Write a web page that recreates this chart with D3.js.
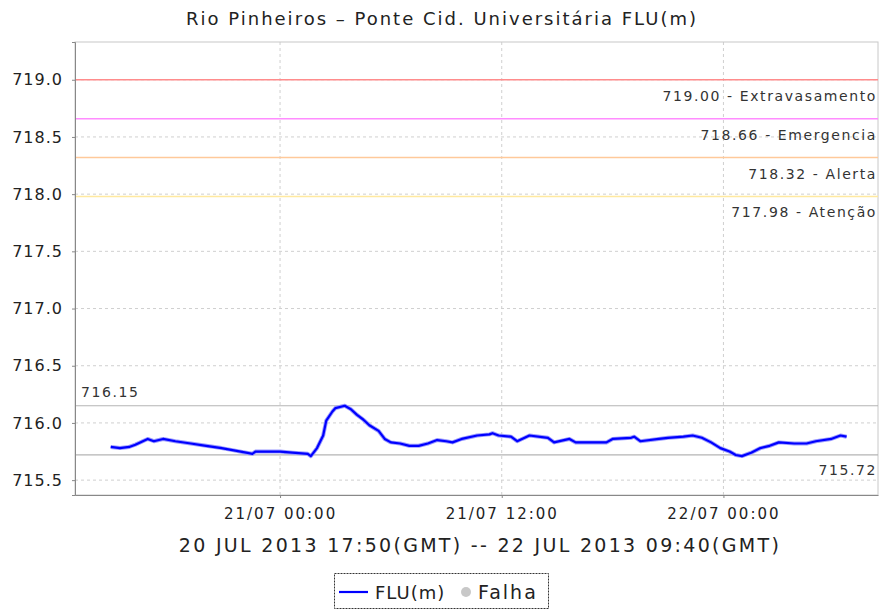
<!DOCTYPE html>
<html>
<head>
<meta charset="utf-8">
<script src="https://cdn.jsdelivr.net/npm/d3@7"></script>
<style>
  body { margin: 0; background: #fff; }
  text { font-family: "DejaVu Sans", sans-serif; fill: #222; }
</style>
</head>
<body>
<div id="vis"></div>
<script>
// readings (local time) and water level FLU(m)
var times = [
  "2013-07-20 14:50", "2013-07-20 15:20", "2013-07-20 15:50", "2013-07-20 16:10",
  "2013-07-20 16:50", "2013-07-20 17:10", "2013-07-20 17:40", "2013-07-20 18:20",
  "2013-07-20 19:10", "2013-07-20 20:00", "2013-07-20 20:50", "2013-07-20 21:30",
  "2013-07-20 22:10", "2013-07-20 22:30", "2013-07-20 22:40", "2013-07-21 00:00",
  "2013-07-21 00:40", "2013-07-21 01:30", "2013-07-21 01:40", "2013-07-21 02:00",
  "2013-07-21 02:20", "2013-07-21 02:30", "2013-07-21 02:50", "2013-07-21 03:00",
  "2013-07-21 03:30", "2013-07-21 03:50", "2013-07-21 04:10", "2013-07-21 04:30",
  "2013-07-21 04:50", "2013-07-21 05:20", "2013-07-21 05:40", "2013-07-21 06:00",
  "2013-07-21 06:30", "2013-07-21 07:00", "2013-07-21 07:30", "2013-07-21 08:00",
  "2013-07-21 08:30", "2013-07-21 09:00", "2013-07-21 09:20", "2013-07-21 09:50",
  "2013-07-21 10:40", "2013-07-21 11:20", "2013-07-21 11:30", "2013-07-21 11:50",
  "2013-07-21 12:30", "2013-07-21 12:50", "2013-07-21 13:30", "2013-07-21 14:30",
  "2013-07-21 14:50", "2013-07-21 15:40", "2013-07-21 16:00", "2013-07-21 17:40",
  "2013-07-21 18:00", "2013-07-21 19:00", "2013-07-21 19:10", "2013-07-21 19:30",
  "2013-07-21 20:30", "2013-07-21 21:00", "2013-07-21 21:50", "2013-07-21 22:20",
  "2013-07-21 22:50", "2013-07-21 23:20", "2013-07-21 23:50", "2013-07-22 00:20",
  "2013-07-22 00:40", "2013-07-22 01:00", "2013-07-22 01:30", "2013-07-22 02:00",
  "2013-07-22 02:30", "2013-07-22 03:00", "2013-07-22 03:50", "2013-07-22 04:30",
  "2013-07-22 05:00", "2013-07-22 05:50", "2013-07-22 06:20", "2013-07-22 06:40"
];
var levels = [
  715.79, 715.78, 715.79, 715.81,
  715.86, 715.84, 715.86, 715.84,
  715.82, 715.80, 715.78, 715.76,
  715.74, 715.73, 715.75, 715.75,
  715.74, 715.73, 715.71, 715.78,
  715.89, 716.02, 716.10, 716.13,
  716.15, 716.12, 716.07, 716.03,
  715.98, 715.93, 715.86, 715.83,
  715.82, 715.80, 715.80, 715.82,
  715.85, 715.84, 715.83, 715.86,
  715.89, 715.90, 715.91, 715.89,
  715.88, 715.84, 715.89, 715.87,
  715.83, 715.86, 715.83, 715.83,
  715.86, 715.87, 715.88, 715.84,
  715.86, 715.87, 715.88, 715.89,
  715.87, 715.83, 715.78, 715.75,
  715.72, 715.71, 715.74, 715.78,
  715.80, 715.83, 715.82, 715.82,
  715.84, 715.86, 715.89, 715.88
];

// alert thresholds
var thresholdValues = [719.00, 718.66, 718.32, 717.98];
var thresholdNames = ["Extravasamento", "Emergencia", "Alerta", "Atenção"];
var thresholdColors = ["#ff8c8c", "#ff8cff", "#ffc99a", "#ffe9a0"];

// max / min markers
var maxLevel = 716.15;
var minLevel = 715.72;

var yTicks = [715.5, 716.0, 716.5, 717.0, 717.5, 718.0, 718.5, 719.0];
var xTickLabels = ["2013-07-21 00:00", "2013-07-21 12:00", "2013-07-22 00:00"];
var xStart = "2013-07-20 12:54";
var xEnd = "2013-07-22 08:22";

var title = "Rio Pinheiros – Ponte Cid. Universitária FLU(m)";
var axisTitle = "20 JUL 2013 17:50(GMT) -- 22 JUL 2013 09:40(GMT)";

var width = 879;
var height = 614;
var margin = { top: 42, left: 75, bottom: 119, right: 1 };
var innerW = width - margin.left - margin.right;
var innerH = height - margin.top - margin.bottom;

var parse = d3.utcParse("%Y-%m-%d %H:%M");
var data = times.map(function (t, i) { return { t: parse(t), v: levels[i] }; });

var svg = d3.select('#vis')
  .append('svg')
  .attr('width', width)
  .attr('height', height);

var x = d3.scaleUtc()
  .domain([parse(xStart), parse(xEnd)])
  .range([margin.left, margin.left + innerW]);

var y = d3.scaleLinear()
  .domain([715.37, 719.33])
  .range([margin.top + innerH, margin.top]);

// title
svg.append('text')
  .attr('x', 442)
  .attr('y', 25)
  .attr('text-anchor', 'middle')
  .attr('font-size', 18)
  .attr('letter-spacing', 2)
  .text(title);

var plot = svg.append('g');

// grid
plot.selectAll('line.hgrid')
  .data(yTicks).enter()
  .append('line')
  .attr('class', 'hgrid')
  .attr('x1', margin.left).attr('x2', margin.left + innerW)
  .attr('y1', d => y(d)).attr('y2', d => y(d))
  .attr('stroke', '#cfcfcf')
  .attr('stroke-dasharray', '3,3');

plot.selectAll('line.vgrid')
  .data(xTickLabels.map(parse)).enter()
  .append('line')
  .attr('class', 'vgrid')
  .attr('x1', d => x(d)).attr('x2', d => x(d))
  .attr('y1', margin.top).attr('y2', margin.top + innerH)
  .attr('stroke', '#cfcfcf')
  .attr('stroke-dasharray', '3,3');

// top / right border
plot.append('rect')
  .attr('x', margin.left).attr('y', margin.top)
  .attr('width', innerW).attr('height', innerH)
  .attr('fill', 'none')
  .attr('stroke', '#c8c8c8');

// threshold lines
plot.selectAll('line.thr')
  .data(thresholdValues).enter()
  .append('line')
  .attr('class', 'thr')
  .attr('x1', margin.left).attr('x2', margin.left + innerW)
  .attr('y1', d => y(d)).attr('y2', d => y(d))
  .attr('stroke', (d, i) => thresholdColors[i])
  .attr('stroke-width', 1.5);

plot.selectAll('text.thr')
  .data(thresholdValues).enter()
  .append('text')
  .attr('class', 'thr')
  .attr('x', 877)
  .attr('y', d => y(d) + 21)
  .attr('text-anchor', 'end')
  .attr('font-size', 14)
  .attr('letter-spacing', 1.6)
  .style('fill', '#333')
  .text((d, i) => d.toFixed(2) + ' - ' + thresholdNames[i]);

// max / min lines
[maxLevel, minLevel].forEach(function (v) {
  plot.append('line')
    .attr('x1', margin.left).attr('x2', margin.left + innerW)
    .attr('y1', y(v)).attr('y2', y(v))
    .attr('stroke', '#b4b4b4')
    .attr('stroke-width', 1.2);
});

plot.append('text')
  .attr('x', 81)
  .attr('y', y(maxLevel) - 9)
  .attr('font-size', 14)
  .attr('letter-spacing', 1.6)
  .style('fill', '#333')
  .text(maxLevel.toFixed(2));

plot.append('text')
  .attr('x', 877)
  .attr('y', y(minLevel) + 20)
  .attr('text-anchor', 'end')
  .attr('font-size', 14)
  .attr('letter-spacing', 1.6)
  .style('fill', '#333')
  .text(minLevel.toFixed(2));

// series
var line = d3.line()
  .x(d => x(d.t))
  .y(d => y(d.v));

plot.append('path')
  .datum(data)
  .attr('d', line)
  .attr('fill', 'none')
  .attr('stroke', '#9a9aff')
  .attr('stroke-width', 4)
  .attr('stroke-linejoin', 'round');

plot.append('path')
  .datum(data)
  .attr('d', line)
  .attr('fill', 'none')
  .attr('stroke', '#0000ff')
  .attr('stroke-width', 2.2)
  .attr('stroke-linejoin', 'round');

// axes
var yAxis = d3.axisLeft(y)
  .tickValues(yTicks)
  .tickSize(3)
  .tickPadding(9)
  .tickFormat(d3.format('.1f'));

var gy = svg.append('g')
  .attr('transform', 'translate(' + margin.left + ',0)')
  .call(yAxis);
gy.select('.domain').attr('stroke', '#888');
gy.selectAll('.tick line').attr('stroke', '#888');
gy.selectAll('.tick text')
  .attr('font-size', 16)
  .attr('letter-spacing', 1)
  .attr('font-family', 'DejaVu Sans')
  .style('fill', '#222');

var xAxis = d3.axisBottom(x)
  .tickValues(xTickLabels.map(parse))
  .tickSize(3)
  .tickSizeOuter(0)
  .tickPadding(10)
  .tickFormat(d3.utcFormat('%d/%m %H:%M'));

var gx = svg.append('g')
  .attr('transform', 'translate(0,' + (margin.top + innerH) + ')')
  .call(xAxis);
gx.select('.domain').attr('stroke', '#888');
gx.selectAll('.tick line').attr('stroke', '#888');
gx.selectAll('.tick text')
  .attr('font-size', 15)
  .attr('letter-spacing', 2)
  .attr('font-family', 'DejaVu Sans')
  .style('fill', '#222');

svg.append('text')
  .attr('x', 480)
  .attr('y', 552)
  .attr('text-anchor', 'middle')
  .attr('font-size', 19)
  .attr('letter-spacing', 2.3)
  .text(axisTitle);

// legend
var legend = svg.append('g');
legend.append('rect')
  .attr('x', 334.5).attr('y', 573.5)
  .attr('width', 214).attr('height', 35)
  .attr('fill', 'none')
  .attr('stroke', '#333')
  .attr('stroke-dasharray', '2,1');
legend.append('line')
  .attr('x1', 339).attr('x2', 368)
  .attr('y1', 592).attr('y2', 592)
  .attr('stroke', '#0000ff')
  .attr('stroke-width', 2.2);
legend.append('text')
  .attr('x', 375).attr('y', 599)
  .attr('font-size', 18)
  .attr('letter-spacing', 1)
  .text('FLU(m)');
legend.append('circle')
  .attr('cx', 466).attr('cy', 592)
  .attr('r', 5)
  .attr('fill', '#c8c8c8');
legend.append('text')
  .attr('x', 478).attr('y', 599)
  .attr('font-size', 19)
  .attr('letter-spacing', 2)
  .text('Falha');
</script>
</body>
</html>
